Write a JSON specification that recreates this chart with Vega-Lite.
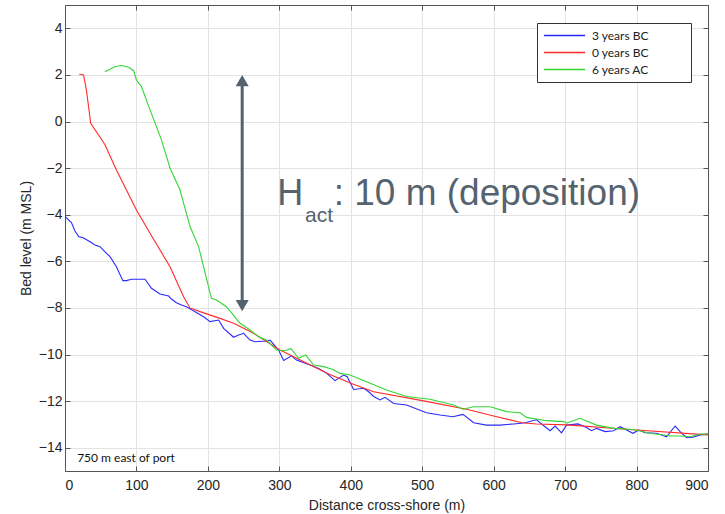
{
  "$schema": "https://vega.github.io/schema/vega-lite/v6.json",
  "width": 643,
  "height": 466,
  "autosize": {"type": "none"},
  "padding": {"left": 65, "top": 5, "right": 17, "bottom": 43},
  "background": "white",
  "config": {
    "view": {"stroke": "#555555", "strokeWidth": 1},
    "axis": {
      "labelFont": "Liberation Sans",
      "labelFontSize": 14,
      "labelColor": "#262626",
      "titleFont": "Liberation Sans",
      "titleFontSize": 14,
      "titleFontWeight": "normal",
      "titleColor": "#262626",
      "domainColor": "#555555",
      "tickColor": "#555555",
      "gridColor": "#e3e3e3",
      "tickSize": -5
    }
  },
  "datasets": {
    "profiles": [
      {"series": "3 years BC", "x": 0, "z": -4.05},
      {"series": "3 years BC", "x": 1, "z": -4.11},
      {"series": "3 years BC", "x": 9, "z": -4.34},
      {"series": "3 years BC", "x": 14, "z": -4.7},
      {"series": "3 years BC", "x": 19, "z": -4.94},
      {"series": "3 years BC", "x": 26, "z": -5.0},
      {"series": "3 years BC", "x": 35, "z": -5.16},
      {"series": "3 years BC", "x": 42, "z": -5.3},
      {"series": "3 years BC", "x": 49, "z": -5.37},
      {"series": "3 years BC", "x": 56, "z": -5.6},
      {"series": "3 years BC", "x": 63, "z": -5.8},
      {"series": "3 years BC", "x": 72, "z": -6.23},
      {"series": "3 years BC", "x": 81, "z": -6.83},
      {"series": "3 years BC", "x": 86, "z": -6.83},
      {"series": "3 years BC", "x": 93, "z": -6.77},
      {"series": "3 years BC", "x": 112, "z": -6.77},
      {"series": "3 years BC", "x": 121, "z": -7.16},
      {"series": "3 years BC", "x": 133, "z": -7.4},
      {"series": "3 years BC", "x": 145, "z": -7.49},
      {"series": "3 years BC", "x": 149, "z": -7.62},
      {"series": "3 years BC", "x": 156, "z": -7.78},
      {"series": "3 years BC", "x": 163, "z": -7.88},
      {"series": "3 years BC", "x": 170, "z": -7.95},
      {"series": "3 years BC", "x": 184, "z": -8.2},
      {"series": "3 years BC", "x": 195, "z": -8.4},
      {"series": "3 years BC", "x": 203, "z": -8.59},
      {"series": "3 years BC", "x": 215, "z": -8.52},
      {"series": "3 years BC", "x": 222, "z": -8.88},
      {"series": "3 years BC", "x": 236, "z": -9.26},
      {"series": "3 years BC", "x": 243, "z": -9.16},
      {"series": "3 years BC", "x": 250, "z": -9.09},
      {"series": "3 years BC", "x": 259, "z": -9.38},
      {"series": "3 years BC", "x": 266, "z": -9.45},
      {"series": "3 years BC", "x": 282, "z": -9.42},
      {"series": "3 years BC", "x": 287, "z": -9.38},
      {"series": "3 years BC", "x": 299, "z": -9.81},
      {"series": "3 years BC", "x": 306, "z": -10.26},
      {"series": "3 years BC", "x": 317, "z": -10.06},
      {"series": "3 years BC", "x": 324, "z": -10.24},
      {"series": "3 years BC", "x": 343, "z": -10.45},
      {"series": "3 years BC", "x": 355, "z": -10.6},
      {"series": "3 years BC", "x": 366, "z": -10.8},
      {"series": "3 years BC", "x": 378, "z": -11.12},
      {"series": "3 years BC", "x": 390, "z": -10.88},
      {"series": "3 years BC", "x": 395, "z": -10.95},
      {"series": "3 years BC", "x": 404, "z": -11.5},
      {"series": "3 years BC", "x": 418, "z": -11.45},
      {"series": "3 years BC", "x": 425, "z": -11.6},
      {"series": "3 years BC", "x": 432, "z": -11.8},
      {"series": "3 years BC", "x": 441, "z": -11.95},
      {"series": "3 years BC", "x": 448, "z": -11.84},
      {"series": "3 years BC", "x": 460, "z": -12.1},
      {"series": "3 years BC", "x": 478, "z": -12.17},
      {"series": "3 years BC", "x": 506, "z": -12.5},
      {"series": "3 years BC", "x": 525, "z": -12.6},
      {"series": "3 years BC", "x": 543, "z": -12.67},
      {"series": "3 years BC", "x": 557, "z": -12.57},
      {"series": "3 years BC", "x": 572, "z": -12.93},
      {"series": "3 years BC", "x": 590, "z": -13.03},
      {"series": "3 years BC", "x": 609, "z": -13.03},
      {"series": "3 years BC", "x": 628, "z": -12.98},
      {"series": "3 years BC", "x": 644, "z": -12.93},
      {"series": "3 years BC", "x": 660, "z": -12.8},
      {"series": "3 years BC", "x": 672, "z": -13.1},
      {"series": "3 years BC", "x": 679, "z": -13.27},
      {"series": "3 years BC", "x": 686, "z": -13.07},
      {"series": "3 years BC", "x": 695, "z": -13.36},
      {"series": "3 years BC", "x": 702, "z": -13.03},
      {"series": "3 years BC", "x": 718, "z": -12.98},
      {"series": "3 years BC", "x": 730, "z": -13.13},
      {"series": "3 years BC", "x": 737, "z": -13.27},
      {"series": "3 years BC", "x": 744, "z": -13.17},
      {"series": "3 years BC", "x": 756, "z": -13.31},
      {"series": "3 years BC", "x": 768, "z": -13.27},
      {"series": "3 years BC", "x": 777, "z": -13.1},
      {"series": "3 years BC", "x": 786, "z": -13.24},
      {"series": "3 years BC", "x": 795, "z": -13.38},
      {"series": "3 years BC", "x": 803, "z": -13.24},
      {"series": "3 years BC", "x": 812, "z": -13.36},
      {"series": "3 years BC", "x": 828, "z": -13.38},
      {"series": "3 years BC", "x": 842, "z": -13.53},
      {"series": "3 years BC", "x": 854, "z": -13.07},
      {"series": "3 years BC", "x": 861, "z": -13.31},
      {"series": "3 years BC", "x": 870, "z": -13.57},
      {"series": "3 years BC", "x": 879, "z": -13.55},
      {"series": "3 years BC", "x": 889, "z": -13.45},
      {"series": "3 years BC", "x": 900, "z": -13.41},
      {"series": "0 years BC", "x": 20, "z": 2.03},
      {"series": "0 years BC", "x": 26, "z": 2.0},
      {"series": "0 years BC", "x": 30, "z": 1.35},
      {"series": "0 years BC", "x": 36, "z": -0.08},
      {"series": "0 years BC", "x": 56, "z": -1.0},
      {"series": "0 years BC", "x": 72, "z": -2.08},
      {"series": "0 years BC", "x": 100, "z": -3.8},
      {"series": "0 years BC", "x": 119, "z": -4.8},
      {"series": "0 years BC", "x": 147, "z": -6.23},
      {"series": "0 years BC", "x": 166, "z": -7.52},
      {"series": "0 years BC", "x": 175, "z": -8.0},
      {"series": "0 years BC", "x": 189, "z": -8.16},
      {"series": "0 years BC", "x": 217, "z": -8.45},
      {"series": "0 years BC", "x": 236, "z": -8.66},
      {"series": "0 years BC", "x": 264, "z": -9.09},
      {"series": "0 years BC", "x": 301, "z": -9.81},
      {"series": "0 years BC", "x": 329, "z": -10.24},
      {"series": "0 years BC", "x": 370, "z": -10.85},
      {"series": "0 years BC", "x": 401, "z": -11.24},
      {"series": "0 years BC", "x": 432, "z": -11.6},
      {"series": "0 years BC", "x": 500, "z": -11.98},
      {"series": "0 years BC", "x": 562, "z": -12.35},
      {"series": "0 years BC", "x": 600, "z": -12.64},
      {"series": "0 years BC", "x": 640, "z": -12.93},
      {"series": "0 years BC", "x": 660, "z": -12.98},
      {"series": "0 years BC", "x": 702, "z": -13.02},
      {"series": "0 years BC", "x": 800, "z": -13.24},
      {"series": "0 years BC", "x": 900, "z": -13.45},
      {"series": "6 years AC", "x": 56, "z": 2.14},
      {"series": "6 years AC", "x": 60, "z": 2.2},
      {"series": "6 years AC", "x": 70, "z": 2.35},
      {"series": "6 years AC", "x": 79, "z": 2.4},
      {"series": "6 years AC", "x": 89, "z": 2.33},
      {"series": "6 years AC", "x": 96, "z": 2.18},
      {"series": "6 years AC", "x": 100, "z": 1.78},
      {"series": "6 years AC", "x": 107, "z": 1.5},
      {"series": "6 years AC", "x": 119, "z": 0.5},
      {"series": "6 years AC", "x": 135, "z": -0.79},
      {"series": "6 years AC", "x": 147, "z": -2.0},
      {"series": "6 years AC", "x": 161, "z": -2.94},
      {"series": "6 years AC", "x": 175, "z": -4.51},
      {"series": "6 years AC", "x": 187, "z": -5.37},
      {"series": "6 years AC", "x": 198, "z": -6.73},
      {"series": "6 years AC", "x": 205, "z": -7.59},
      {"series": "6 years AC", "x": 212, "z": -7.66},
      {"series": "6 years AC", "x": 226, "z": -7.95},
      {"series": "6 years AC", "x": 238, "z": -8.4},
      {"series": "6 years AC", "x": 245, "z": -8.66},
      {"series": "6 years AC", "x": 259, "z": -8.95},
      {"series": "6 years AC", "x": 271, "z": -9.24},
      {"series": "6 years AC", "x": 282, "z": -9.38},
      {"series": "6 years AC", "x": 296, "z": -9.81},
      {"series": "6 years AC", "x": 308, "z": -9.84},
      {"series": "6 years AC", "x": 316, "z": -9.74},
      {"series": "6 years AC", "x": 327, "z": -10.16},
      {"series": "6 years AC", "x": 337, "z": -10.02},
      {"series": "6 years AC", "x": 348, "z": -10.45},
      {"series": "6 years AC", "x": 362, "z": -10.52},
      {"series": "6 years AC", "x": 375, "z": -10.64},
      {"series": "6 years AC", "x": 385, "z": -10.81},
      {"series": "6 years AC", "x": 399, "z": -10.88},
      {"series": "6 years AC", "x": 422, "z": -11.17},
      {"series": "6 years AC", "x": 450, "z": -11.52},
      {"series": "6 years AC", "x": 478, "z": -11.8},
      {"series": "6 years AC", "x": 511, "z": -11.92},
      {"series": "6 years AC", "x": 544, "z": -12.17},
      {"series": "6 years AC", "x": 557, "z": -12.35},
      {"series": "6 years AC", "x": 572, "z": -12.24},
      {"series": "6 years AC", "x": 595, "z": -12.24},
      {"series": "6 years AC", "x": 618, "z": -12.45},
      {"series": "6 years AC", "x": 637, "z": -12.5},
      {"series": "6 years AC", "x": 646, "z": -12.7},
      {"series": "6 years AC", "x": 674, "z": -12.84},
      {"series": "6 years AC", "x": 698, "z": -12.88},
      {"series": "6 years AC", "x": 702, "z": -12.95},
      {"series": "6 years AC", "x": 721, "z": -12.74},
      {"series": "6 years AC", "x": 744, "z": -13.03},
      {"series": "6 years AC", "x": 768, "z": -13.17},
      {"series": "6 years AC", "x": 795, "z": -13.22},
      {"series": "6 years AC", "x": 819, "z": -13.38},
      {"series": "6 years AC", "x": 847, "z": -13.5},
      {"series": "6 years AC", "x": 861, "z": -13.5},
      {"series": "6 years AC", "x": 875, "z": -13.53},
      {"series": "6 years AC", "x": 889, "z": -13.41},
      {"series": "6 years AC", "x": 900, "z": -13.41}
    ],
    "arrow": [{"x": 248, "top": 1.6, "bottom": -7.75}],
    "heads": [
      {"x": 248, "z": 1.75, "shape": "triangle-up"},
      {"x": 248, "z": -7.9, "shape": "triangle-down"}
    ],
    "labels": [
      {"x": 297, "z": -3.58, "text": "H", "size": 36},
      {"x": 336, "z": -4.3, "text": "act", "size": 21},
      {"x": 376, "z": -3.58, "text": ": 10 m (deposition)", "size": 37}
    ],
    "note": [{"x": 17, "z": -14.62, "text": "750 m  east of port"}]
  },
  "resolve": {"axis": {"x": "independent", "y": "independent"}},
  "layer": [
    {
      "data": {"name": "profiles"},
      "mark": {"type": "line", "strokeWidth": 1.1, "clip": true},
      "encoding": {
        "x": {
          "field": "x", "type": "quantitative",
          "scale": {"domain": [0, 900], "nice": false},
          "axis": {"values": [0, 100, 200, 300, 400, 500, 600, 700, 800, 900], "title": "Distance cross-shore  (m)", "labelPadding": 12, "titlePadding": 6, "grid": true}
        },
        "y": {
          "field": "z", "type": "quantitative",
          "scale": {"domain": [-15, 5], "nice": false},
          "axis": {"values": [-14, -12, -10, -8, -6, -4, -2, 0, 2, 4], "title": "Bed level (m MSL)", "labelPadding": 8, "titlePadding": 5, "grid": true}
        },
        "color": {
          "field": "series", "type": "nominal",
          "scale": {"domain": ["3 years BC", "0 years BC", "6 years AC"], "range": ["#2a2aff", "#ff2a2a", "#33d633"]},
          "legend": {
            "title": "\u00a0",
            "titleOrient": "right",
            "titleFontSize": 1,
            "titlePadding": 36,
            "orient": "none",
            "legendX": 472,
            "legendY": 18,
            "symbolType": "M-1,0H1",
            "symbolSize": 1700,
            "symbolStrokeWidth": 1.3,
            "clipHeight": 13,
            "labelFont": "Lato",
            "labelFontSize": 12,
            "labelColor": "#222222",
            "strokeColor": "#333333",
            "fillColor": "white",
            "padding": 6,
            "rowPadding": 4,
            "labelOffset": 6
          }
        },
        "order": {"field": "x", "type": "quantitative"}
      }
    },
    {
      "data": {"name": "arrow"},
      "mark": {"type": "rule", "color": "#55636f", "strokeWidth": 3},
      "encoding": {
        "x": {"field": "x", "type": "quantitative", "axis": {"orient": "top", "labels": false, "title": null, "grid": false, "values": [0, 100, 200, 300, 400, 500, 600, 700, 800, 900]}},
        "y": {"field": "top", "type": "quantitative", "axis": {"orient": "right", "labels": false, "title": null, "grid": false, "values": [-14, -12, -10, -8, -6, -4, -2, 0, 2, 4]}},
        "y2": {"field": "bottom"}
      }
    },
    {
      "data": {"name": "heads"},
      "mark": {"type": "point", "filled": true, "color": "#55636f", "size": 170, "opacity": 1},
      "encoding": {
        "x": {"field": "x", "type": "quantitative", "axis": null},
        "y": {"field": "z", "type": "quantitative", "axis": null},
        "shape": {"field": "shape", "type": "nominal", "scale": null, "legend": null}
      }
    },
    {
      "data": {"name": "labels"},
      "mark": {"type": "text", "align": "left", "baseline": "alphabetic", "font": "Liberation Sans", "color": "#55636f"},
      "encoding": {
        "x": {"field": "x", "type": "quantitative", "axis": null},
        "y": {"field": "z", "type": "quantitative", "axis": null},
        "text": {"field": "text"},
        "size": {"field": "size", "type": "quantitative", "scale": null, "legend": null}
      }
    },
    {
      "data": {"name": "note"},
      "mark": {"type": "text", "align": "left", "baseline": "alphabetic", "font": "Lato", "fontSize": 12, "color": "#111111"},
      "encoding": {
        "x": {"field": "x", "type": "quantitative", "axis": null},
        "y": {"field": "z", "type": "quantitative", "axis": null},
        "text": {"field": "text"}
      }
    }
  ]
}
